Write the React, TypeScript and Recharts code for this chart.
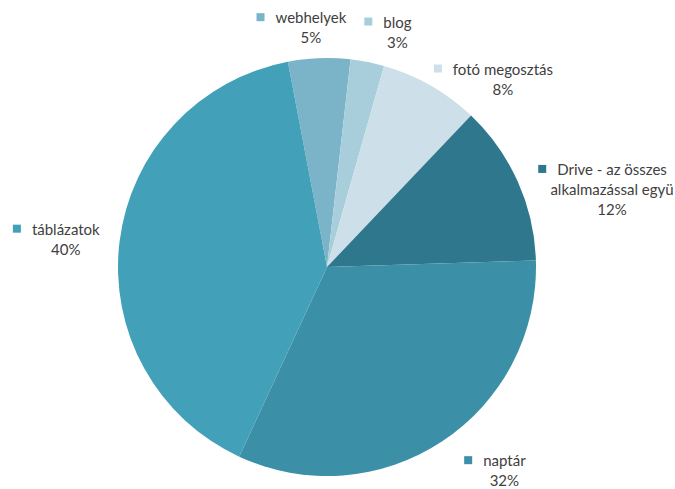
import { PieChart, Pie, Cell } from 'recharts';

// slice order runs clockwise, starting just left of 12 o'clock
const CATEGORIES = [
  'webhelyek',
  'blog',
  'fotó megosztás',
  'Drive - az összes alkalmazással együtt',
  'naptár',
  'táblázatok',
];
const SHARES = [4.8, 2.6, 7.7, 12.4, 32.4, 40.1];
const COLORS = ['#7bb4c9', '#a9cedb', '#cddfe9', '#2e778d', '#3b90a8', '#43a0b9'];

// the long label wraps, and the reference shows its second line cut short
const LABEL_LINES: Record<string, string[]> = {
  'Drive - az összes alkalmazással együtt': ['Drive - az összes', 'alkalmazással együ'],
};

// small shifts from the radial anchor, like Excel's best-fit placement
const LABEL_NUDGE: Record<string, [number, number]> = {
  webhelyek: [-7, -4],
  blog: [24, -4],
  'fotó megosztás': [57, 16],
  'Drive - az összes alkalmazással együtt': [66, 6],
  naptár: [45, -1],
  táblázatok: [-23, -3],
};

const data = CATEGORIES.map((name, i) => ({ name, value: SHARES[i], fill: COLORS[i] }));

const FONT = 'Lato, "Open Sans", sans-serif';
const FONT_SIZE = 15;
const TEXT_COLOR = '#404040';
const RAD = Math.PI / 180;

let ctx: CanvasRenderingContext2D | null = null;
const textWidth = (s: string) => {
  if (!ctx) ctx = document.createElement('canvas').getContext('2d');
  if (!ctx) return s.length * 7;
  ctx.font = `${FONT_SIZE}px ${FONT}`;
  return ctx.measureText(s).width;
};

const renderLabel = (props: any) => {
  const { cx, cy, midAngle, outerRadius, percent, name, index } = props;
  const r = outerRadius + 31;
  const [dx, dy] = LABEL_NUDGE[name] || [0, 0];
  const x = cx + r * Math.cos(-midAngle * RAD) + dx;
  const y = cy + r * Math.sin(-midAngle * RAD) + dy;
  const lines = [...(LABEL_LINES[name] || [name]), `${Math.round(percent * 100)}%`];
  const w = textWidth(lines[0]);
  return (
    <g key={`lbl-${index}`}>
      <rect x={x - w / 2 - 19} y={y - 10} width={8} height={8} fill={COLORS[index]} />
      {lines.map((line, i) => (
        <text
          key={i}
          x={x}
          y={y + i * 20}
          textAnchor="middle"
          fontFamily={FONT}
          fontSize={FONT_SIZE}
          fill={TEXT_COLOR}
        >
          {line}
        </text>
      ))}
    </g>
  );
};

export default function App() {
  return (
    <div style={{ position: 'absolute', left: 0, top: 0, width: 675, height: 489, background: '#fff' }}>
      <PieChart width={675} height={489} margin={{ top: 0, right: 0, bottom: 0, left: 0 }}>
        <Pie
          data={data}
          dataKey="value"
          nameKey="name"
          cx={327}
          cy={267}
          outerRadius={209}
          startAngle={100.8}
          endAngle={-259.2}
          stroke="none"
          label={renderLabel}
          labelLine={false}
          isAnimationActive={false}
        >
          {data.map((entry, i) => (
            <Cell key={`cell-${i}`} fill={entry.fill} />
          ))}
        </Pie>
      </PieChart>
    </div>
  );
}
